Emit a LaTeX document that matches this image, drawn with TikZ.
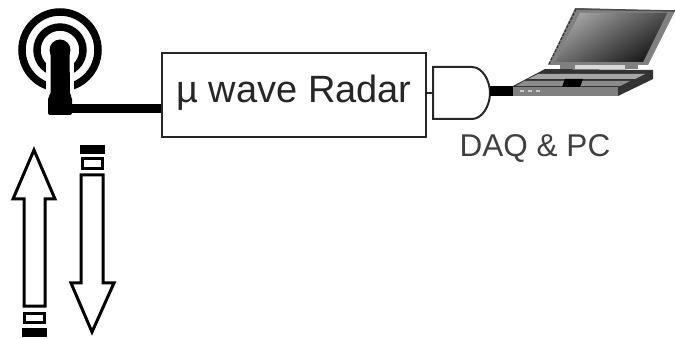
\documentclass[tikz,border=0pt]{standalone}
\usepackage{fontspec}
\setmainfont{Liberation Sans}
\usetikzlibrary{calc}
\tikzset{
  ring/.style={draw=black,line width=7.5pt},
  outline/.style={draw=black,line width=3pt,fill=white,line join=miter},
  thinbox/.style={draw=black!85,line width=2pt,fill=white},
  cable/.style={draw=black,line width=9pt},
  lapedge/.style={draw=black!80,line width=1.2pt,dash pattern=on 3pt off 1.5pt}
}
\begin{document}
\begin{tikzpicture}[x=1pt,y=-1pt]
\useasboundingbox (0,0) rectangle (675,339);
% antenna
\coordinate (ant) at (60,50);
\draw[ring] (ant) circle (38);
\draw[ring] (ant) circle (23);
\fill[white] (46,60) rectangle (74,105);
\fill[black] (ant) circle (10.5);
\fill[black,rounded corners=2pt] (50.5,50) -- (69.5,50) -- (70,95) -- (72,97) -- (72,115) -- (48,115) -- (48,97) -- (50.5,95) -- cycle;
\coordinate (mast) at (70,108.5);
% radar
\node[thinbox,minimum width=264pt,minimum height=84pt,inner sep=0pt,text=black!85] (radar) at (294,95) {\raisebox{-7.5pt}[0pt][0pt]{\fontsize{38}{40}\selectfont µ wave Radar}};
\draw[cable] (mast) -- (radar.west |- mast);
% gate
\coordinate (gw) at (433,93);
\draw[thinbox] (433,67) -- (472,67) .. controls (482,67) and (490,80) .. (490,93) .. controls (490,106) and (482,119) .. (472,119) -- (433,119) -- cycle;
\coordinate (gout) at (490,91);
\draw[thinbox] (radar.east |- gw) -- (gw);
% laptop
\fill[black!50] (575,8) -- (675,11) -- (648,65) -- (548,65) -- cycle;
\shade[left color=black!22,right color=black!95,middle color=black!60,shading angle=75] (580,13) -- (667,13) -- (643,62) -- (555,62) -- cycle;
\shade[top color=black!40,bottom color=black!95,opacity=.45] (580,13) -- (667,13) -- (643,62) -- (555,62) -- cycle;
\draw[lapedge] (576,9) -- (549,64);
\draw[black!70,line width=1.5pt] (575,9) -- (675,11);
\fill[black!15] (575,65) -- (625,65) -- (625,69) -- (575,69) -- cycle;
\fill[black!50] (560,65) -- (575,65) -- (575,69) -- (560,69) -- cycle;
\fill[black!50] (625,65) -- (638,65) -- (638,69) -- (625,69) -- cycle;
\fill[black!80] (545,69) -- (653,70) -- (653,79) -- (618,96) -- (513,96) -- (513,86) -- cycle;
\fill[black!35] (538,74) -- (645,74) -- (635,79) -- (528,79) -- cycle;
\fill[black!45] (524,81) -- (630,81) -- (620,86) -- (516,86) -- cycle;
\fill[black] (565,79) -- (583,79) -- (580,87) -- (562,87) -- cycle;
\fill[black!50] (513,87) -- (618,87) -- (618,96) -- (513,96) -- cycle;
\draw[lapedge] (619,94) -- (652,77);
\foreach \dx in {0,8,16}{\fill[black!20] (520+\dx,90.5) rectangle +(4,2);}
\coordinate (lapin) at (513,91);
\draw[cable,line width=10pt] (gout) -- (lapin);
\node[font=\fontsize{31.5}{34}\selectfont,inner sep=0pt,text=black!75] (daq) at (535,148) {DAQ \& PC};
% up arrow
\draw[outline] (34,150) -- (55,199) -- (45,199) -- (45,306) -- (24,306) -- (24,199) -- (13,199) -- cycle;
\node[outline,minimum width=20pt,minimum height=9pt,inner sep=0pt] (ub) at (34.5,317.5) {};
\node[fill=black,minimum width=25pt,minimum height=9pt,inner sep=0pt] (uk) at (34.5,332.5) {};
% down arrow
\draw[outline] (92,332) -- (71,283) -- (81,283) -- (81,175) -- (103,175) -- (103,283) -- (114,283) -- cycle;
\node[outline,minimum width=20pt,minimum height=10pt,inner sep=0pt] (db) at (92,164) {};
\node[fill=black,minimum width=25pt,minimum height=9pt,inner sep=0pt] (dk) at (92,149.5) {};
\end{tikzpicture}
\end{document}
